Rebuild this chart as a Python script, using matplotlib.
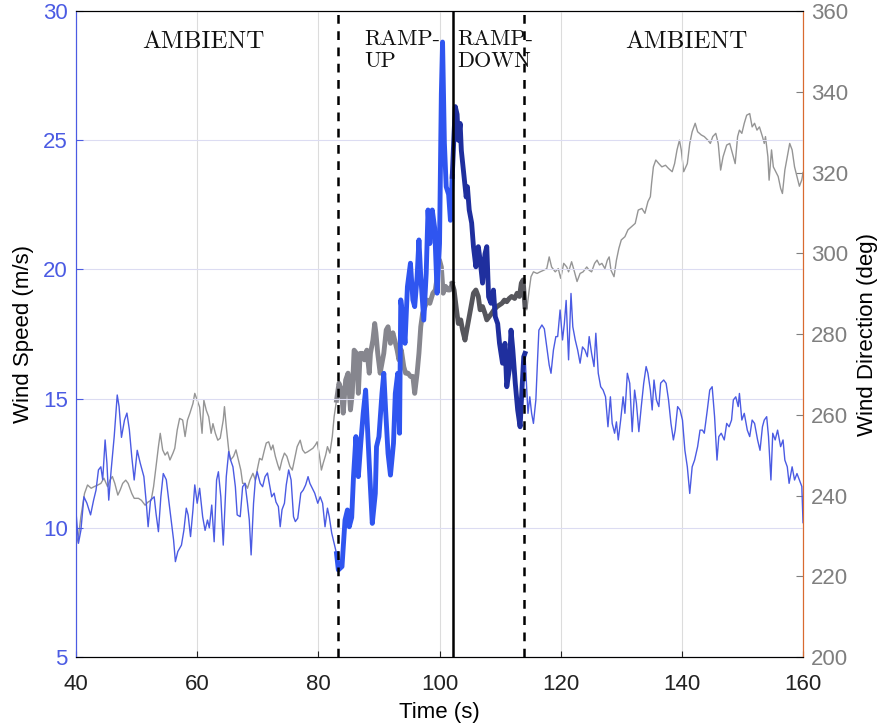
import numpy as np
import matplotlib.pyplot as plt

# wind speed (m/s)
speed_t = [40.0, 40.4, 40.8, 41.3, 41.8, 42.4, 42.9, 43.3, 43.7, 44.1, 44.4, 44.8, 45.1, 45.4, 45.8,
           46.3, 46.8, 47.1, 47.5, 48.0, 48.4, 48.8, 49.2, 49.6, 50.1, 50.6, 51.2, 51.6, 51.9, 52.3,
           52.9, 53.2, 53.6, 54.0, 54.4, 54.9, 55.3, 55.7, 56.1, 56.4, 56.8, 57.4, 57.8, 58.2, 58.5,
           58.9, 59.3, 59.6, 60.0, 60.4, 60.9, 61.3, 61.7, 62.0, 62.4, 62.8, 63.2, 63.5, 63.9, 64.3,
           64.8, 65.2, 65.5, 65.9, 66.3, 66.6, 67.1, 67.5, 67.9, 68.3, 68.6, 68.9, 69.3, 69.6, 69.9,
           70.4, 70.8, 71.2, 71.6, 71.9, 72.3, 72.7, 73.0, 73.4, 73.7, 74.0, 74.4, 74.7, 75.1, 75.5,
           75.9, 76.2, 76.6, 77.1, 77.5, 77.9, 78.3, 78.6, 79.0, 79.4, 79.9, 80.3, 80.7, 81.1, 81.5,
           81.8, 82.2, 82.6, 83.0, 83.3, 83.9, 84.4, 84.8, 85.1, 85.5, 85.8, 86.2, 86.6, 87.0, 87.4,
           87.8, 88.1, 88.5, 88.9, 89.4, 89.6, 90.0, 90.5, 90.8, 91.1, 91.5, 91.9, 92.4, 92.7, 93.1,
           93.4, 93.6, 94.0, 94.3, 94.7, 95.2, 95.6, 95.9, 96.3, 96.6, 96.9, 97.4, 97.8, 98.1, 98.4,
           98.8, 99.2, 99.6, 100.0, 100.3, 100.5, 100.8, 101.1, 101.5, 101.8, 102.1, 102.4, 102.6, 102.9, 103.1,
           103.4, 103.6, 104.0, 104.4, 104.6, 104.9, 105.3, 105.6, 106.0, 106.4, 106.7, 107.1, 107.5, 107.8, 108.1,
           108.5, 108.9, 109.2, 109.6, 109.9, 110.4, 110.8, 111.1, 111.5, 111.8, 112.1, 112.5, 112.9, 113.3, 113.6,
           113.9, 114.1, 114.4, 114.6, 114.9, 115.2, 115.5, 115.9, 116.2, 116.4, 116.9, 117.3, 117.7, 118.1, 118.4,
           118.8, 119.2, 119.5, 119.9, 120.3, 120.6, 120.9, 121.3, 121.7, 122.0, 122.4, 122.8, 123.2, 123.6, 124.0,
           124.4, 124.7, 125.1, 125.5, 125.8, 126.2, 126.6, 127.0, 127.4, 127.8, 128.2, 128.5, 128.9, 129.2, 129.5,
           129.9, 130.3, 130.6, 131.0, 131.4, 131.8, 132.2, 132.5, 132.9, 133.3, 133.7, 134.1, 134.4, 134.8, 135.1,
           135.4, 135.8, 136.2, 136.5, 137.0, 137.4, 137.8, 138.2, 138.6, 138.9, 139.3, 139.7, 140.1, 140.5, 140.9,
           141.3, 141.7, 142.1, 142.6, 143.0, 143.4, 143.7, 144.2, 144.6, 145.0, 145.4, 145.8, 146.1, 146.5, 147.0,
           147.4, 147.8, 148.2, 148.5, 148.9, 149.3, 149.5, 149.9, 150.3, 150.8, 151.2, 151.6, 152.0, 152.5, 152.9,
           153.3, 153.6, 154.0, 154.3, 154.7, 155.0, 155.4, 155.8, 156.3, 156.7, 157.0, 157.4, 157.7, 158.2, 158.6,
           159.0, 159.4, 159.8, 160.0]
speed_v = [10.6, 9.4, 9.9, 11.2, 10.95, 10.5, 11.07, 11.46, 12.24, 12.36, 11.86, 13.4, 12.5, 11.07, 12.24,
           13.53, 15.14, 14.7, 13.5, 14.17, 14.44, 13.8, 12.75, 11.85, 13.0, 12.5, 11.98, 10.95, 10.04, 11.07,
           11.2, 10.56, 9.85, 11.2, 12.1, 11.86, 11.07, 10.3, 9.53, 8.69, 9.08, 9.33, 9.9, 10.76, 10.5,
           9.66, 10.7, 11.66, 10.95, 11.53, 10.43, 9.9, 10.3, 10.0, 10.88, 9.46, 11.85, 12.17, 11.2, 9.33,
           11.98, 12.95, 12.63, 12.36, 11.59, 10.5, 10.43, 11.59, 11.72, 10.95, 10.3, 8.95, 10.95, 11.85, 12.17,
           11.72, 11.59, 11.98, 12.12, 11.72, 11.2, 11.34, 11.0, 10.82, 10.04, 10.7, 10.95, 11.66, 12.24, 11.85,
           10.43, 10.24, 10.37, 11.34, 11.46, 11.66, 11.98, 11.72, 11.53, 11.34, 10.95, 11.2, 10.95, 10.04, 10.76,
           10.43, 9.8, 9.4, 9.0, 8.37, 8.5, 10.3, 10.69, 10.04, 10.4, 11.98, 13.53, 11.98, 13.27, 14.43,
           15.33, 13.91, 11.98, 10.17, 11.33, 13.14, 13.53, 15.2, 15.98, 14.56, 12.88, 12.04, 13.27, 15.2, 15.98,
           13.66, 18.82, 18.04, 17.14, 19.33, 20.24, 18.82, 18.56, 19.72, 21.14, 19.72, 18.04, 19.85, 22.3, 21.0,
           22.3, 21.6, 19.08, 21.0, 26.8, 28.8, 24.9, 23.2, 22.9, 21.9, 23.6, 25.27, 26.3, 26.0, 25.0,
           25.65, 24.6, 23.7, 22.8, 23.2, 22.3, 21.8, 20.88, 20.1, 20.88, 20.36, 19.47, 20.6, 20.88, 18.94,
           18.69, 19.2, 18.17, 17.9, 17.14, 16.37, 17.14, 15.46, 16.1, 17.65, 16.88, 15.6, 14.56, 13.91, 15.33,
           16.62, 16.75, 15.33, 14.43, 15.07, 14.43, 14.04, 14.95, 16.62, 17.65, 17.85, 17.7, 17.0, 16.3, 15.98,
           16.88, 17.4, 17.4, 18.43, 17.27, 17.9, 18.8, 16.5, 19.07, 17.78, 17.27, 16.88, 16.37, 17.0, 16.88,
           16.62, 17.4, 16.75, 16.24, 17.53, 15.98, 15.46, 15.33, 15.07, 13.91, 15.07, 14.04, 13.66, 14.1, 13.4,
           14.17, 15.07, 14.43, 15.98, 15.59, 13.72, 15.33, 14.82, 13.72, 14.69, 15.59, 16.24, 15.98, 15.33, 14.56,
           15.72, 14.95, 14.69, 15.6, 15.72, 15.59, 14.95, 14.04, 13.4, 13.78, 14.69, 14.56, 14.17, 13.0, 12.36,
           11.33, 12.36, 12.62, 13.14, 13.78, 13.78, 13.66, 14.56, 15.33, 15.46, 14.3, 12.62, 13.53, 13.66, 13.4,
           14.04, 13.91, 14.17, 14.95, 15.07, 14.69, 15.2, 14.17, 14.43, 13.78, 13.53, 14.17, 14.04, 13.4, 13.0,
           13.91, 14.17, 14.3, 13.53, 11.85, 13.66, 13.4, 13.78, 13.14, 13.4, 12.62, 12.36, 11.72, 12.36, 11.85,
           12.1, 11.85, 11.6, 10.2]

# wind direction (deg)
dir_t = [40.0, 40.4, 40.8, 41.4, 41.9, 42.5, 43.0, 43.6, 44.1, 44.6, 45.2, 45.6, 46.0, 46.4, 46.9,
         47.3, 47.7, 48.2, 48.6, 49.2, 49.6, 50.3, 50.8, 51.4, 51.9, 52.4, 52.8, 53.2, 53.6, 53.9,
         54.3, 54.7, 55.1, 55.5, 56.0, 56.3, 56.7, 57.1, 57.6, 58.0, 58.4, 58.8, 59.3, 59.6, 60.0,
         60.4, 60.8, 61.1, 61.5, 61.9, 62.3, 62.6, 63.0, 63.4, 63.8, 64.3, 64.5, 64.8, 65.2, 65.5,
         66.0, 66.4, 66.8, 67.2, 67.5, 67.9, 68.3, 68.7, 69.2, 69.6, 69.9, 70.3, 70.7, 71.1, 71.4,
         71.8, 72.2, 72.5, 72.9, 73.3, 73.6, 74.0, 74.4, 74.8, 75.3, 75.7, 76.1, 76.5, 77.0, 77.4,
         77.8, 78.2, 78.7, 79.1, 79.5, 79.8, 80.2, 80.5, 80.8, 81.2, 81.5, 81.9, 82.3, 82.6, 83.0,
         83.4, 83.8, 84.1, 84.5, 84.9, 85.3, 85.6, 85.9, 86.3, 86.6, 86.9, 87.3, 87.6, 88.0, 88.4,
         88.6, 89.0, 89.3, 89.5, 89.8, 90.2, 90.6, 90.8, 91.2, 91.5, 91.9, 92.3, 92.6, 93.0, 93.3,
         93.7, 94.1, 94.4, 94.8, 95.2, 95.6, 95.9, 96.3, 96.6, 96.9, 97.2, 97.6, 98.0, 98.4, 98.9,
         99.3, 99.7, 100.0, 100.3, 100.6, 101.0, 101.4, 101.7, 102.1, 102.4, 102.8, 103.1, 103.5, 103.8, 104.2,
         104.5, 104.9, 105.3, 105.6, 106.0, 106.4, 106.7, 107.1, 107.5, 107.8, 108.2, 108.6, 109.0, 109.5, 109.9,
         110.3, 110.7, 111.1, 111.5, 111.9, 112.4, 112.8, 113.2, 113.5, 113.8, 114.1, 114.4, 114.8, 115.1, 115.5,
         116.1, 116.6, 117.2, 117.7, 118.1, 118.5, 119.1, 119.6, 120.0, 120.5, 121.0, 121.3, 121.8, 122.2, 122.7,
         123.2, 123.7, 124.3, 124.7, 125.1, 125.6, 126.0, 126.4, 126.8, 127.3, 127.7, 128.0, 128.3, 128.8, 129.2,
         129.6, 130.0, 130.6, 131.1, 131.7, 132.3, 132.8, 133.4, 133.9, 134.4, 134.8, 135.0, 135.3, 135.7, 136.2,
         136.7, 137.3, 137.8, 138.4, 138.8, 139.2, 139.6, 139.9, 140.3, 140.9, 141.3, 141.7, 142.2, 142.6, 143.2,
         143.7, 144.3, 144.7, 145.1, 145.6, 146.0, 146.4, 146.8, 147.4, 147.9, 148.5, 148.8, 149.2, 149.5, 149.9,
         150.3, 150.7, 151.2, 151.6, 152.0, 152.4, 152.8, 153.3, 153.6, 153.8, 154.2, 154.4, 154.8, 155.1, 155.5,
         155.9, 156.3, 156.6, 157.0, 157.4, 157.8, 158.2, 158.6, 159.0, 159.4, 159.8, 160.0]
dir_v = [227.7, 229.8, 234.75, 240.5, 242.6, 241.8, 242.2, 242.6, 243.0, 244.3, 242.2, 243.8, 244.7, 243.0, 240.1,
         241.4, 243.0, 243.8, 243.0, 240.5, 239.3, 239.3, 238.8, 237.6, 238.4, 238.8, 242.2, 247.1, 252.1, 255.4,
         251.3, 250.0, 250.8, 248.8, 250.5, 251.7, 256.2, 259.1, 258.7, 254.6, 258.7, 260.4, 262.8, 265.3, 263.6,
         261.9, 255.4, 263.6, 261.1, 259.5, 255.4, 257.8, 255.4, 253.7, 254.2, 258.7, 262.0, 257.0, 251.3, 248.8,
         249.7, 251.3, 248.8, 246.3, 243.0, 243.0, 241.8, 243.8, 245.5, 243.8, 246.3, 249.2, 248.8, 251.3, 253.0,
         253.3, 251.3, 252.5, 249.7, 247.6, 246.3, 248.8, 250.5, 249.7, 247.2, 246.3, 249.2, 252.1, 253.7, 251.3,
         250.5, 250.8, 251.3, 251.7, 252.5, 253.3, 249.7, 246.3, 248.0, 250.0, 252.1, 250.5, 254.6, 259.5, 263.6,
         267.8, 266.1, 260.4, 268.6, 270.3, 261.2, 265.3, 276.0, 275.2, 265.3, 275.2, 275.2, 273.6, 276.0, 270.3,
         275.2, 278.5, 282.6, 280.3, 275.2, 270.3, 273.6, 275.2, 281.0, 281.8, 277.7, 280.3, 278.5, 276.0, 273.6,
         276.0, 271.9, 270.3, 270.3, 269.5, 269.5, 265.3, 270.3, 275.2, 281.8, 285.1, 286.8, 288.4, 287.6, 290.1,
         290.9, 295.0, 298.3, 296.6, 290.1, 291.8, 290.9, 290.9, 292.5, 290.9, 286.0, 282.6, 283.5, 281.0, 278.5,
         281.0, 284.3, 287.6, 290.1, 290.9, 289.3, 286.0, 286.8, 285.1, 283.5, 284.3, 285.1, 286.0, 286.8, 287.2,
         287.6, 288.4, 288.0, 288.8, 289.3, 288.8, 290.1, 289.3, 292.6, 293.4, 286.8, 286.0, 290.9, 294.2, 295.4,
         295.0, 295.4, 295.8, 296.2, 299.1, 296.6, 295.4, 296.2, 293.8, 297.5, 296.6, 295.4, 297.9, 295.8, 293.0,
         295.0, 295.4, 296.6, 295.8, 295.4, 297.5, 298.3, 297.1, 297.5, 296.2, 298.3, 299.1, 295.8, 294.2, 298.3,
         301.2, 303.3, 304.1, 305.8, 306.6, 307.4, 310.7, 311.1, 309.9, 312.8, 314.0, 317.3, 321.4, 323.1, 322.2,
         321.4, 321.8, 321.0, 320.2, 322.2, 325.6, 328.0, 325.6, 320.2, 322.2, 327.2, 330.1, 332.2, 330.1, 329.3,
         328.9, 328.0, 327.2, 328.9, 329.7, 327.2, 320.6, 323.9, 326.8, 327.2, 323.9, 322.2, 328.9, 330.5, 329.7,
         332.2, 334.2, 334.6, 331.3, 332.2, 330.5, 331.3, 328.9, 327.2, 328.9, 323.9, 318.1, 325.6, 321.4, 320.2,
         319.0, 316.1, 314.8, 320.6, 323.9, 327.2, 325.6, 321.4, 319.0, 316.6, 318.2, 320.0]

t_rampup = 83.0
t_peak = 102.1
t_rampdown = 114.1

speed_t = np.array(speed_t)
speed_v = np.array(speed_v)
dir_t = np.array(dir_t)
dir_v = np.array(dir_v)

plt.rcParams['font.family'] = ['Liberation Sans', 'DejaVu Sans']

fig = plt.figure(figsize=(8.81, 7.25), dpi=100)
ax = fig.add_axes([0.0863, 0.0938, 0.8252, 0.891])
ax2 = ax.twinx()
ax.set_zorder(ax2.get_zorder() + 1)
ax.patch.set_visible(False)

blue_thin = '#4b5be3'
blue_up = '#2f55f0'
blue_down = '#1f2f9e'
gray_thin = '#959595'
gray_up = '#86868e'
gray_down = '#56565c'

# direction, right axis
m = dir_t <= t_rampup
ax2.plot(dir_t[m], dir_v[m], color=gray_thin, lw=1.0)
m = dir_t >= t_rampdown
ax2.plot(dir_t[m], dir_v[m], color=gray_thin, lw=1.0)
m = (dir_t >= t_rampup) & (dir_t <= t_peak)
ax2.plot(dir_t[m], dir_v[m], color=gray_up, lw=3.5)
m = (dir_t >= t_peak) & (dir_t <= t_rampdown)
ax2.plot(dir_t[m], dir_v[m], color=gray_down, lw=3.5)

# speed, left axis
m = speed_t <= t_rampup
ax.plot(speed_t[m], speed_v[m], color=blue_thin, lw=1.0)
m = speed_t >= t_rampdown
ax.plot(speed_t[m], speed_v[m], color=blue_thin, lw=1.0)
m = (speed_t >= t_rampup) & (speed_t <= t_peak)
ax.plot(speed_t[m], speed_v[m], color=blue_up, lw=3.5)
m = (speed_t >= t_peak) & (speed_t <= t_rampdown)
ax.plot(speed_t[m], speed_v[m], color=blue_down, lw=3.5)

ax.axvline(83.2, color='k', ls=(0, (3.5, 3)), lw=1.8)
ax.axvline(102.2, color='k', lw=1.8)
ax.axvline(114.0, color='k', ls=(0, (3.5, 3)), lw=1.8)

ax.set_xlim(40, 160)
ax.set_ylim(5, 30)
ax2.set_ylim(200, 360)
ax.set_xticks(np.arange(40, 161, 20))
ax.set_yticks([5, 10, 15, 20, 25, 30])
ax2.set_yticks(np.arange(200, 361, 20))

ax.grid(True, axis='x', color='#dcdcdc', lw=0.8)
ax.grid(True, axis='y', color='#dcdcf2', lw=0.8)
ax.set_axisbelow(True)

ax.tick_params(axis='x', direction='in', length=4, labelsize=16, colors='#222222', pad=12)
ax.tick_params(axis='y', direction='in', length=5, labelsize=16, colors=blue_thin, pad=6)
ax2.tick_params(axis='y', direction='in', length=5, labelsize=16, colors='#7f7f7f', pad=6)
ax.spines['left'].set_color(blue_thin)
ax2.spines['left'].set_color(blue_thin)
ax2.spines['right'].set_color('#d96a30')
ax.spines['right'].set_color('#d96a30')

ax.set_xlabel('Time (s)', fontsize=16, labelpad=5)
ax.set_ylabel('Wind Speed (m/s)', fontsize=16, labelpad=6)
ax2.set_ylabel('Wind Direction (deg)', fontsize=16, labelpad=6)

ann = dict(family='cmr10', color='#111111')
ax.text(61.0, 28.8, 'AMBIENT', ha='center', va='center', fontsize=18, **ann)
ax.text(140.7, 28.8, 'AMBIENT', ha='center', va='center', fontsize=18, **ann)
ax.text(87.6, 29.3, 'RAMP-\nUP', ha='left', va='top', linespacing=1.2, fontsize=16, **ann)
ax.text(103.0, 29.3, 'RAMP-\nDOWN', ha='left', va='top', linespacing=1.2, fontsize=16, **ann)

fig.savefig('out.png', dpi=100)
